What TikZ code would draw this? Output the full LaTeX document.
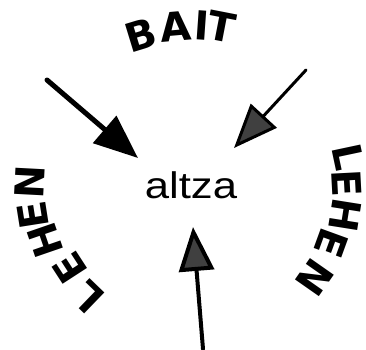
\documentclass[tikz,border=0pt]{standalone}
\usepackage{fontspec}
\setmainfont{Liberation Sans}
\newfontfamily\heavyfont{DejaVu Sans}
\usetikzlibrary{arrows.meta}
\begin{document}
\begin{tikzpicture}[x=1pt,y=-1pt,
  letter/.style={inner sep=0pt,font=\fontsize{40}{42}\heavyfont\bfseries},
  pointer/.style={line cap=round,-{Triangle[length=44pt,width=35pt,fill=#1]}}]
\useasboundingbox (0,0) rectangle (366,349);
\node[inner sep=0pt,font=\fontsize{37}{39}\selectfont,xscale=1.18] (altza) at (191,185) {altza};
% BAIT
\foreach \ch/\x/\y/\r [count=\i] in {B/141/35/17,A/176/27/5,I/202/25/-4,T/222/27/-11}
  \node[letter,rotate=\r] (bait\i) at (\x,\y) {\ch};
% LEHEN left and right
\foreach \ch/\x/\y/\r [count=\i] in {L/88/297/136,E/70/268/123,H/45/240/109,E/33/215/99,N/30/182/87}
  \node[letter,rotate=\r] (left\i) at (\x,\y) {\ch};
\foreach \ch/\x/\y/\r [count=\i] in {L/348/157/-78,E/347/183/-87,H/345/215/-99,E/332/243/-110,N/315/278/-125}
  \node[letter,rotate=\r] (right\i) at (\x,\y) {\ch};
% arrows
\coordinate (tlfrom) at (47,80);
\coordinate (tlto) at (138,158);
\coordinate (trfrom) at (306,70);
\coordinate (trto) at (234,148);
\coordinate (bfrom) at (203,349);
\coordinate (bto) at (193,227);
\draw[pointer=black,line width=5pt] (tlfrom)--(tlto);
\draw[pointer=black!75,line width=3pt] (trfrom)--(trto);
\draw[pointer=black!75,line width=4pt] (bfrom)--(bto);
\end{tikzpicture}
\end{document}
